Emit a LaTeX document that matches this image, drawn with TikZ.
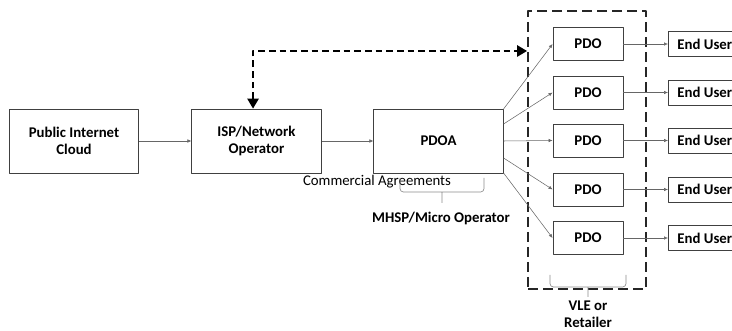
\documentclass[tikz,border=0pt]{standalone}
\usepackage{fontspec}
\setmainfont{Carlito}
\usetikzlibrary{arrows.meta}

\begin{document}
\begin{tikzpicture}[x=0.75pt, y=-0.75pt, font=\fontsize{11.1}{12.5}\selectfont\bfseries, line join=round,
	>={Latex[length=3pt,width=2.6pt]},
	blk/.style={draw=black!75, line width=0.6pt, minimum width=97pt, minimum height=48pt, align=center, inner sep=0pt},
	pdobox/.style={draw=black!75, line width=0.6pt, minimum width=52.5pt, minimum height=24.75pt, inner sep=0pt},
	usrbox/.style={draw=black!75, line width=0.6pt, anchor=west, minimum height=18.75pt, inner ysep=0pt, inner xsep=6.75pt},
	vlebox/.style={draw=black!85, line width=1.4pt, dash pattern=on 7.5pt off 3.75pt, minimum width=88.5pt, minimum height=208.5pt, inner sep=0pt},
	conn/.style={->, draw=black!60, line width=0.4pt},
	dsh/.style={{Triangle[length=7.5pt,width=8.5pt]}-{Triangle[length=7.5pt,width=8.5pt]}, line width=1.3pt, dash pattern=on 5pt off 3pt},
	brc/.style={draw=black!45, line width=0.5pt, rounded corners=2.5pt}]
	\useasboundingbox (0,0) rectangle (732,331);
	% main chain
	\node[blk] (cloud) at (74,141) {Public Internet\\Cloud};
	\node[blk] (isp) at (256.5,141) {ISP/Network\\Operator};
	\node[blk] (pdoa) at (438.5,141) {PDOA};
	\node[vlebox] (vle) at (587,150) {};
	\draw[conn] (cloud) -- (isp);
	\draw[conn] (isp) -- (pdoa);
	% PDO rows
	\foreach \i/\y/\s in {1/44/109,2/92.5/124,3/140.5/141,4/189.5/158,5/238/173}{
		\node[pdobox] (pdo\i) at (588,\y) {PDO};
		\node[usrbox] (usr\i) at (668,\y) {End User};
		\draw[conn] (pdoa.east |- 0,\s) -- (pdo\i.west);
		\draw[conn] (pdo\i) -- (usr\i);
	}
	\draw[dsh] ([xshift=-2.6pt]isp.north) |- (vle.west |- 0,51);
	% braces and labels
	\node[font=\fontsize{11.1}{13}\selectfont] (agr) at (377,182) {Commercial Agreements};
	\draw[brc] (400,178) -- (400,192) -- (484,192) -- (484,178) (442,192) -- (442,203);
	\node (mhsp) at (441,218) {MHSP/Micro Operator};
	\draw[brc] (550,275) -- (550,287) -- (626,287) -- (626,275) (588,287) -- (588,297);
	\node[align=center] (ret) at (588,314) {VLE or\\Retailer};
\end{tikzpicture}
\end{document}
